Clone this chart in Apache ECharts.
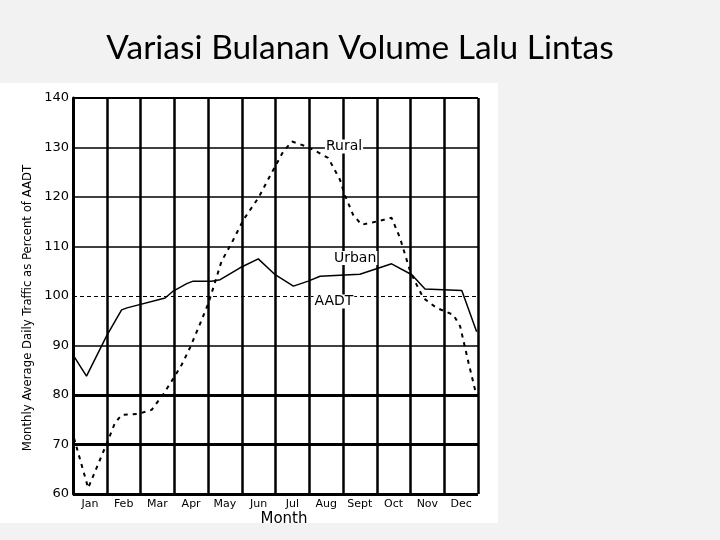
<!DOCTYPE html>
<html>
<head>
<meta charset="utf-8">
<script src="https://cdn.jsdelivr.net/npm/echarts@6/dist/echarts.min.js"></script>
<style>
html,body{margin:0;padding:0;background:#f2f2f2;}
#c{width:720px;height:540px;}
</style>
</head>
<body>
<div id="c"></div>
<script>
// ---- data ----
var titleText = 'Variasi Bulanan Volume Lalu Lintas';
var months = ['Jan','Feb','Mar','Apr','May','Jun','Jul','Aug','Sept','Oct','Nov','Dec'];
var yTicks = [60, 70, 80, 90, 100, 110, 120, 130, 140];
var aadtLevel = 100;
// month position (0 = start of Jan, 12 = end of Dec) and percent of AADT
var urbanMonth = [0, 0.4, 1.0, 1.44, 1.6, 2.73, 2.97, 3.37, 3.56, 4.11, 4.36, 4.95, 5.49, 5.99, 6.53, 6.97, 7.32, 8.5, 9.44, 10.04, 10.43, 11.52, 11.96];
var urbanValue = [88.1, 83.8, 92, 97.2, 97.6, 99.6, 101, 102.5, 103, 103, 103.3, 105.7, 107.5, 104.3, 102, 103, 104, 104.4, 106.5, 104.3, 101.4, 101.1, 92.8];
var ruralMonth = [0.03, 0.45, 1.0, 1.24, 1.44, 1.94, 2.33, 2.68, 2.96, 3.22, 3.47, 3.76, 4.01, 4.2, 4.4, 4.7, 5.05, 5.49, 5.88, 6.23, 6.49, 6.92, 7.21, 7.56, 7.91, 8.06, 8.3, 8.55, 8.9, 9.44, 9.69, 9.99, 10.18, 10.38, 10.77, 11.27, 11.47, 11.72, 11.96];
var ruralValue = [71.3, 61.2, 70.2, 74.3, 76, 76.2, 77, 80.2, 83.2, 86.1, 89.6, 94.3, 98.5, 102.6, 107, 110.7, 115.4, 119.8, 124.8, 129.2, 131.2, 130.2, 129.2, 127.9, 123.5, 120.3, 116.4, 114.4, 114.9, 115.8, 111.7, 105, 102.3, 99.6, 97.6, 96.2, 93.9, 86.5, 79.7];
var labelRural = {text: 'Rural', month: 8.03, value: 130.2};
var labelUrban = {text: 'Urban', month: 8.36, value: 107.7};
var labelAadt = {text: 'AADT', month: 7.73, value: 98.9};
// ---- chart ----
function pairs(xs, ys){ return xs.map(function(x,i){ return [x, ys[i]]; }); }
var gridHLines = yTicks.filter(function(v){ return v !== aadtLevel; }).map(function(v){
  var w = (v === 60 || v === 70 || v === 80) ? 3 : (v === 140 ? 2 : 1.5);
  return {yAxis: v, lineStyle: {color: '#000', width: w, type: 'solid'}};
});
var chart = echarts.init(document.getElementById('c'), null, {renderer: 'canvas'});
function textMark(l){
  return {coord: [l.month, l.value], symbol: 'rect', symbolSize: 0,
    label: {show: true, position: 'inside', formatter: l.text, fontFamily: 'DejaVu Sans', fontSize: 14, color: '#000',
      backgroundColor: '#fff', padding: [0, 1]}};
}
chart.setOption({
  backgroundColor: '#f2f2f2',
  animation: false,
  title: {text: titleText, left: 'center', top: 26,
    textStyle: {fontFamily: 'Lato', fontWeight: 'normal', fontSize: 33.5, color: '#000'}},
  graphic: [
    {type: 'rect', shape: {x: 0, y: 83, width: 498, height: 440}, style: {fill: '#fff'}, z: -10, silent: true},
    {type: 'text', x: 28, y: 308, rotation: Math.PI / 2,
      style: {text: 'Monthly Average Daily Traffic as Percent of AADT', fontFamily: 'Liberation Sans Narrow, DejaVu Sans Condensed, sans-serif',
        fontSize: 13, fill: '#000', align: 'center', verticalAlign: 'middle'}},
    {type: 'text', x: 284, y: 519,
      style: {text: 'Month', fontFamily: 'DejaVu Sans', fontSize: 15, fill: '#000', align: 'center', verticalAlign: 'middle'}}
  ],
  grid: {left: 73, right: 242, top: 98, bottom: 46, containLabel: false},
  xAxis: [
    {type: 'value', min: 0, max: 12, interval: 1,
      axisLine: {show: false}, axisTick: {show: false}, axisLabel: {show: false},
      splitLine: {show: true, lineStyle: {color: '#000', width: 2.5}}},
    {type: 'category', data: months, position: 'bottom', boundaryGap: true,
      axisLine: {show: false}, axisTick: {show: false}, splitLine: {show: false},
      axisLabel: {margin: 5, fontFamily: 'DejaVu Sans', fontSize: 11, color: '#000'}}
  ],
  yAxis: {type: 'value', min: 60, max: 140, interval: 10,
    axisLine: {show: true, lineStyle: {color: '#000', width: 3}},
    axisTick: {show: false}, splitLine: {show: false},
    axisLabel: {margin: 4, fontFamily: 'DejaVu Sans', fontSize: 13, color: '#000'}},
  series: [
    {type: 'line', name: 'grid', data: [], z: 1, silent: true,
      markLine: {silent: true, symbol: 'none', label: {show: false}, animation: false,
        data: gridHLines.concat([{yAxis: aadtLevel, lineStyle: {color: '#000', width: 1, type: [4, 3]}}])}},
    {type: 'line', name: 'Urban', xAxisIndex: 0, data: pairs(urbanMonth, urbanValue), z: 3,
      showSymbol: false, symbol: 'none', lineStyle: {color: '#000', width: 1.5}},
    {type: 'line', name: 'Rural', xAxisIndex: 0, data: pairs(ruralMonth, ruralValue), z: 3,
      showSymbol: false, symbol: 'none', lineStyle: {color: '#000', width: 2, type: [4, 5]}},
    {type: 'line', name: 'labels', data: [], z: 5, silent: true,
      markPoint: {silent: true, data: [textMark(labelRural), textMark(labelUrban), textMark(labelAadt)]}}
  ]
});
</script>
</body>
</html>
